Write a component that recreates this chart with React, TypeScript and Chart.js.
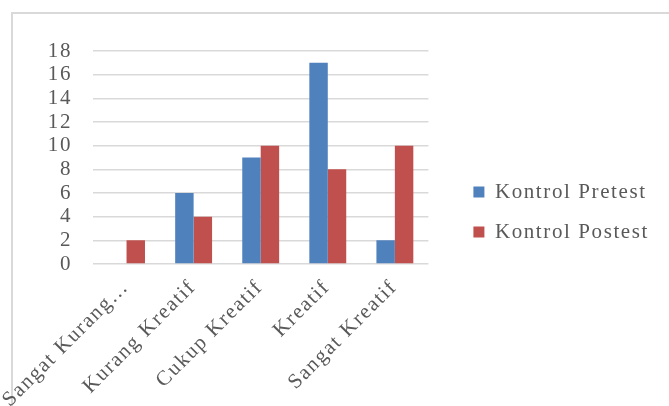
import React, { useEffect, useRef } from 'react';
import { Chart, registerables } from 'chart.js';

Chart.register(...registerables);

const categories = ['Sangat Kurang…', 'Kurang Kreatif', 'Cukup Kreatif', 'Kreatif', 'Sangat Kreatif'];
const seriesNames = ['Kontrol Pretest', 'Kontrol Postest'];
const pretest = [0, 6, 9, 17, 2];
const postest = [2, 4, 10, 8, 10];
const yTickValues = [0, 2, 4, 6, 8, 10, 12, 14, 16, 18];

const FONT = '"Liberation Serif", "Times New Roman", serif';
const TEXT = '#595959';
const GRID = '#d9d9d9';
const SPACING = '1.6px';

const letterSpacingPlugin = {
  id: 'letterSpacing',
  beforeLayout(chart: any) {
    chart.ctx.letterSpacing = SPACING;
  },
  afterLayout(chart: any) {
    // let the rotated category labels use the whole canvas height (no clipping)
    if (chart.scales.x) chart.scales.x.bottom = chart.height;
  },
  beforeDraw(chart: any) {
    chart.ctx.letterSpacing = SPACING;
  },
};

export default function App() {
  const ref = useRef<HTMLCanvasElement>(null);

  useEffect(() => {
    if (!ref.current) return;
    const chart = new Chart(ref.current, {
      type: 'bar',
      plugins: [letterSpacingPlugin],
      data: {
        labels: categories,
        datasets: [
          { label: seriesNames[0], data: pretest, backgroundColor: '#4F81BD', borderWidth: 0, yAxisID: 'y' },
          { label: seriesNames[1], data: postest, backgroundColor: '#C0504D', borderWidth: 0, yAxisID: 'y' },
        ],
      },
      options: {
        animation: false,
        responsive: true,
        maintainAspectRatio: false,
        layout: { padding: { top: 18, bottom: 33, left: 8, right: 2 } },
        datasets: { bar: { barPercentage: 1, categoryPercentage: 0.55 } },
        plugins: {
          tooltip: { enabled: false },
          legend: {
            position: 'right',
            align: 'center',
            maxWidth: 320,
            labels: {
              boxWidth: 11,
              boxHeight: 11,
              padding: 19,
              color: TEXT,
              font: { family: FONT, size: 21 },
            },
          },
        },
        scales: {
          x: {
            grid: { display: false, drawTicks: false },
            border: { display: false },
            ticks: {
              color: TEXT,
              font: { family: FONT, size: 21 },
              maxRotation: 45,
              minRotation: 45,
              autoSkip: false,
              padding: 11,
              labelOffset: -1,
            },
            afterFit: (s: any) => {
              s.height = 109;
              s.paddingLeft = 0;
              s.paddingRight = 0;
            },
          },
          y: {
            min: 0,
            max: 18,
            grid: {
              color: GRID,
              lineWidth: 1.5,
              drawTicks: true,
              tickLength: 21,
              tickColor: 'rgba(0,0,0,0)',
            },
            border: { display: false },
            ticks: {
              color: TEXT,
              font: { family: FONT, size: 21 },
              padding: 0,
              stepSize: 2,
              autoSkip: false,
            },
            afterBuildTicks: (s: any) => { s.ticks = yTickValues.map((v) => ({ value: v })); },
            afterFit: (s: any) => { s.width = 85; },
          },
          gap: {
            type: 'linear',
            position: 'right',
            display: true,
            grid: { display: false, drawTicks: false },
            border: { display: false },
            ticks: { display: false },
            afterFit: (s: any) => { s.width = 26; },
          },
        },
      },
    });
    return () => chart.destroy();
  }, []);

  return (
    <div style={{ position: 'fixed', left: 0, top: 0, width: 669, height: 406, overflow: 'hidden', background: '#ffffff' }}>
      <div
        style={{
          position: 'absolute',
          left: 11,
          top: 12,
          width: 800,
          height: 800,
          borderLeft: '2px solid #d9d9d9',
          borderTop: '2px solid #d9d9d9',
        }}
      />
      <div style={{ position: 'absolute', left: 0, top: 33, width: 661, height: 373 }}>
        <canvas ref={ref} />
      </div>
    </div>
  );
}
